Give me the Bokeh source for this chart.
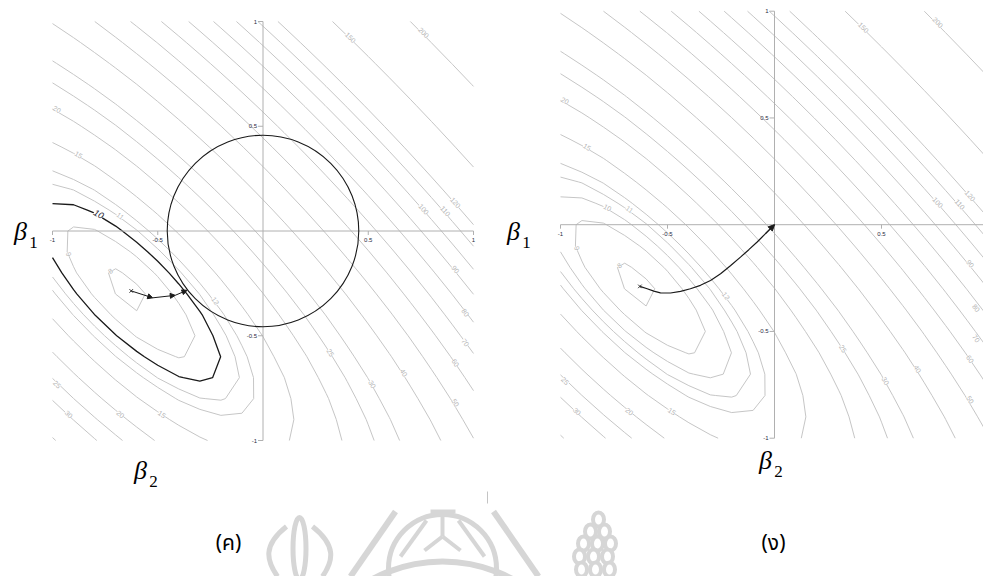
import math
import numpy as np
import contourpy
from bokeh.plotting import figure
from bokeh.models import Range1d, ColumnDataSource, LabelSet, Label, Arrow, NormalHead
from bokeh.embed import file_html
from bokeh.resources import INLINE
from bokeh.core.properties import value

# ---------------------------------------------------------------------------
# Residual sum of squares surface of a two-coefficient regression:
#   RSS(b1, b2) = rss_min + (b - b_hat)' G (b - b_hat)
b_hat = (-0.63, -0.29)
rss_min = 7.8
gram = ((31.3, 24.7),
        (24.7, 31.3))

levels = [8, 9, 10, 11, 12, 15, 20, 25, 30, 40, 50, 60, 70, 80,
          90, 100, 110, 120, 150, 200]
highlight_level = 10

grid_b = np.linspace(-1.0, 1.0, 21)

# ridge constraint region (ค)
ridge_radius = 0.455

# iterations of the constrained fit (ค)
ridge_b1 = [-0.626, -0.524, -0.417, -0.361]
ridge_b2 = [-0.286, -0.319, -0.307, -0.283]

# coefficient path as the penalty grows (ง)
path_b1 = [-0.629, -0.595, -0.564, -0.533, -0.486, -0.439, -0.393, -0.346,
           -0.299, -0.252, -0.206, -0.159, -0.120, -0.081, -0.042, 0.0]
path_b2 = [-0.289, -0.300, -0.311, -0.319, -0.320, -0.312, -0.300, -0.284,
           -0.261, -0.230, -0.192, -0.152, -0.117, -0.081, -0.042, 0.0]

# contour labels: level and where it sits on its line
clabel_level = [150, 200, 20, 15, 11, 9, 8, 12, 25, 30, 40, 50, 60, 70,
                80, 90, 100, 110, 120, 25, 30, 20, 15]
clabel_b1 = [0.415, 0.763, -0.979, -0.876, -0.678, -0.923, -0.725, -0.227,
             0.320, 0.518, 0.668, 0.914, 0.914, 0.961, 0.961, 0.914, 0.763,
             0.866, 0.914, -0.979, -0.923, -0.678, -0.480]
clabel_b2 = [0.923, 0.947, 0.581, 0.363, 0.072, -0.111, -0.191, -0.334,
             -0.581, -0.732, -0.676, -0.820, -0.629, -0.533, -0.390, -0.183,
             0.104, 0.095, 0.135, -0.732, -0.875, -0.875, -0.875]
hl_label_b1, hl_label_b2 = -0.781, 0.080

tick_values = [-1, -0.5, 0.5, 1]
tick_text = ["-1", "-0.5", "0.5", "1"]

# ---------------------------------------------------------------------------
W, H = 983, 576
# pixel placement of each panel: left px of -1, px per unit x, top px of +1, px per unit y
panels = {
    "L": dict(x0=52.0, sx=210.5, y0=21.0, sy=209.5),
    "R": dict(x0=560.0, sx=214.0, y0=10.7, sy=213.5),
}

p = figure(width=W, height=H, x_range=Range1d(0, W), y_range=Range1d(H, 0),
           output_backend="svg", toolbar_location=None,
           x_axis_location=None, y_axis_location=None, min_border=0)
p.outline_line_color = None
p.grid.visible = False
p.background_fill_color = "white"
p.border_fill_color = "white"

visible_x = {}
for name, g in panels.items():
    xs = -1 - g["x0"] / g["sx"]
    xe = xs + W / g["sx"]
    ye = 1 + g["y0"] / g["sy"]
    ys = ye - H / g["sy"]
    p.extra_x_ranges[name] = Range1d(xs, xe)
    p.extra_y_ranges[name] = Range1d(ys, ye)
    visible_x[name] = xe

# surface on the grid
B1, B2 = np.meshgrid(grid_b, grid_b)
d1 = B1 - b_hat[0]
d2 = B2 - b_hat[1]
Z = rss_min + gram[0][0] * d1 ** 2 + 2 * gram[0][1] * d1 * d2 + gram[1][1] * d2 ** 2
gen = contourpy.contour_generator(B1, B2, Z)

GREY_LINE = "#c6c6c6"
GREY_TEXT = "#b4b4b4"
AXIS = "#b0b0b0"
INK = "#1a1a1a"


def label_angle(b1, b2):
    u1 = b1 - b_hat[0]
    u2 = b2 - b_hat[1]
    g1 = gram[0][0] * u1 + gram[0][1] * u2
    g2 = gram[0][1] * u1 + gram[1][1] * u2
    a = math.atan2(-g1, g2)
    if a > math.pi / 2:
        a -= math.pi
    if a <= -math.pi / 2:
        a += math.pi
    return a


def draw_panel(name, black_highlight):
    rk = dict(x_range_name=name, y_range_name=name)
    xmax = visible_x[name]
    xs_all, ys_all, cols, wids = [], [], [], []
    for lev in levels:
        for seg in gen.lines(lev):
            xs_all.append(seg[:, 0].tolist())
            ys_all.append(seg[:, 1].tolist())
            if black_highlight and lev == highlight_level:
                cols.append(INK)
                wids.append(1.3)
            else:
                cols.append(GREY_LINE)
                wids.append(1.0)
    p.multi_line(xs=xs_all, ys=ys_all, line_color=cols, line_width=wids, **rk)

    # cross-hair axes
    p.segment(x0=[-1, 0], y0=[0, -1], x1=[1, 0], y1=[0, 1],
              line_color=AXIS, line_width=1, **rk)
    tv = [v for v in tick_values if v < xmax]
    tt = [t for v, t in zip(tick_values, tick_text) if v < xmax]
    p.ray(x=tv, y=[0] * len(tv), length=4, length_units="screen",
          angle=-math.pi / 2, line_color=AXIS, **rk)
    p.ray(x=[0] * 4, y=tick_values, length=5, length_units="screen",
          angle=math.pi, line_color=AXIS, **rk)
    p.text(x=tv, y=[0] * len(tv), text=tt, y_offset=7,
           text_align="center", text_baseline="top", text_font_size="6px",
           text_color="#2a2a40", text_font=value("Liberation Sans"), **rk)
    p.text(x=[0] * 4, y=tick_values, text=tick_text, x_offset=-6,
           text_align="right", text_baseline="middle", text_font_size="6px",
           text_color="#2a2a40", text_font=value("Liberation Sans"), **rk)

    # contour labels
    lx = [min(v, xmax - 0.035) for v in clabel_b1]
    ly = list(clabel_b2)
    lt = [str(v) for v in clabel_level]
    if not black_highlight:
        lx.append(hl_label_b1)
        ly.append(hl_label_b2)
        lt.append(str(highlight_level))
    ang = [label_angle(a, b) for a, b in zip(lx, ly)]
    src = ColumnDataSource(dict(x=lx, y=ly, text=lt, angle=ang))
    p.add_layout(LabelSet(x="x", y="y", text="text", angle="angle", source=src,
                          text_align="center", text_baseline="middle",
                          text_font_size="7px", text_color=GREY_TEXT,
                          text_font=value("Liberation Sans"),
                          background_fill_color="white", **rk))
    if black_highlight:
        p.add_layout(Label(x=hl_label_b1, y=hl_label_b2, text=str(highlight_level),
                           angle=label_angle(hl_label_b1, hl_label_b2),
                           text_align="center", text_baseline="middle",
                           text_font_size="9px", text_font_style="italic",
                           text_color="#1a1a2e", text_font="Liberation Sans",
                           background_fill_color="white", **rk))


# ---- panel (ค): constrained fit inside the circle
draw_panel("L", True)
rkL = dict(x_range_name="L", y_range_name="L")
p.circle(x=[0], y=[0], radius=ridge_radius, fill_color=None,
         line_color=INK, line_width=1.1, **rkL)
p.scatter(x=[ridge_b1[0]], y=[ridge_b2[0]], marker="x", size=5,
          line_color="#333333", **rkL)
for i in range(len(ridge_b1) - 1):
    p.add_layout(Arrow(x_start=ridge_b1[i], y_start=ridge_b2[i],
                       x_end=ridge_b1[i + 1], y_end=ridge_b2[i + 1],
                       line_color=INK, line_width=1,
                       end=NormalHead(size=5, fill_color=INK, line_color=INK), **rkL))

# ---- panel (ง): path towards the origin
draw_panel("R", False)
rkR = dict(x_range_name="R", y_range_name="R")
p.line(x=path_b1, y=path_b2, line_color=INK, line_width=1.2, **rkR)
p.scatter(x=[path_b1[0]], y=[path_b2[0]], marker="x", size=5,
          line_color="#333333", **rkR)
p.add_layout(Arrow(x_start=path_b1[-2], y_start=path_b2[-2],
                   x_end=path_b1[-1], y_end=path_b2[-1],
                   line_color=INK, line_width=1.2,
                   end=NormalHead(size=6, fill_color=INK, line_color=INK), **rkR))

# ---- emblem watermark behind the captions (page pixels)
WM = "#d6d6d6"
p.segment(x0=[395, 493], y0=[511, 511], x1=[350, 538], y1=[576, 576],
          line_color=WM, line_width=6)
p.circle(x=[442], y=[709], radius=148, fill_color=None, line_color=WM, line_width=6)
p.circle(x=[442], y=[568], radius=54, fill_color=None, line_color=WM, line_width=5)
p.arc(x=[442], y=[600], radius=50, start_angle=math.radians(200),
      end_angle=math.radians(340), direction="anticlock", line_color=WM, line_width=4)
p.segment(x0=[442, 442, 442, 426, 458, 430],
          y0=[514, 536, 536, 520, 520, 511],
          x1=[442, 424, 460, 400, 484, 455],
          y1=[536, 550, 550, 556, 556, 511],
          line_color=WM, line_width=4)
p.ellipse(x=[299], y=[548], width=13, height=62, fill_color=None,
          line_color=WM, line_width=5)
p.bezier(x0=[286, 312], y0=[526, 526], x1=[277, 322], y1=[576, 576],
         cx0=[262, 336], cy0=[545, 545], cx1=[266, 333], cy1=[560, 560],
         line_color=WM, line_width=5)
p.ellipse(x=[598, 590, 604, 583, 597, 610, 579, 593, 607, 581, 595, 609],
          y=[519, 531, 531, 543, 543, 543, 556, 556, 556, 569, 569, 569],
          width=11, height=14, fill_color="white", line_color=WM, line_width=4)
p.segment(x0=[487], y0=[491], x1=[487], y1=[503], line_color="#c4c4c4", line_width=1)

# ---- axis symbols and panel captions (page pixels)
SERIF = value("Liberation Serif")
sym_x = [20, 513, 140, 765]
sym_y = [231, 231, 470, 460]
sym_main = ["β", "β", "β", "β"]
sym_sub = ["1", "1", "2", "2"]
p.text(x=sym_x, y=sym_y, text=sym_main, text_font=SERIF, text_font_style="italic",
       text_font_size="26px", text_align="center", text_baseline="middle",
       text_color="black")
p.text(x=[v + 13 for v in sym_x], y=[v + 11 for v in sym_y], text=sym_sub,
       text_font=SERIF, text_font_size="17px", text_align="center",
       text_baseline="alphabetic", text_color="black")

cap_x = [228, 773]
cap_y = [543, 543]
cap_text = ["(ค)", "(ง)"]
p.text(x=cap_x, y=cap_y, text=cap_text,
       text_font=value("Noto Sans Thai, Noto Sans Thai UI, Loma, Garuda, Noto Sans"),
       text_font_size="21px", text_align="center", text_baseline="middle",
       text_color="black")

open("out.html", "w").write(file_html(p, INLINE))
